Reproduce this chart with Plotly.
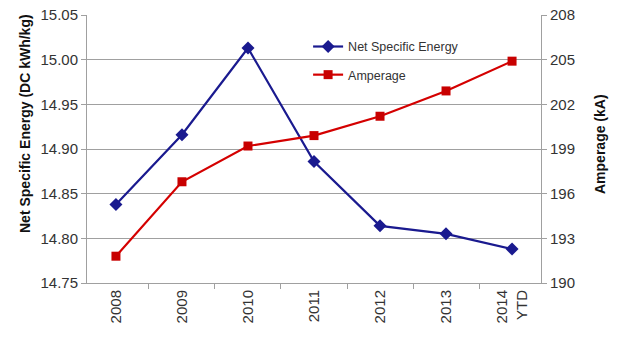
import plotly.graph_objects as go

years = ["2008", "2009", "2010", "2011", "2012", "2013", "2014<br>YTD"]
net_specific_energy = [14.838, 14.916, 15.013, 14.886, 14.814, 14.805, 14.788]
amperage = [191.8, 196.8, 199.2, 199.9, 201.2, 202.9, 204.9]

left_ticks = [14.75, 14.80, 14.85, 14.90, 14.95, 15.00, 15.05]
right_ticks = [190, 193, 196, 199, 202, 205, 208]

font_family = "Liberation Sans, Arial, sans-serif"
grid = "#a0a0a0"

fig = go.Figure()
fig.add_trace(go.Scatter(
    x=years, y=net_specific_energy, name="Net Specific Energy",
    mode="lines+markers",
    line=dict(color="#1a1a8f", width=2.2),
    marker=dict(symbol="diamond", size=10, color="#1a1a8f"),
    yaxis="y", legend="legend",
))
fig.add_trace(go.Scatter(
    x=years, y=amperage, name="Amperage",
    mode="lines+markers",
    line=dict(color="#d40000", width=2.2),
    marker=dict(symbol="square", size=9, color="#c80000"),
    yaxis="y2", legend="legend2",
))

legend_common = dict(
    xanchor="left", yanchor="top",
    bgcolor="rgba(0,0,0,0)", font=dict(size=12.5, color="#333333"),
    itemwidth=30,
)

fig.update_layout(
    width=617, height=337,
    margin=dict(l=87, r=76, t=15, b=54, autoexpand=False),
    paper_bgcolor="white", plot_bgcolor="white",
    font=dict(family=font_family, color="#333333"),
    showlegend=True,
    legend=dict(x=0.487, y=0.937, **legend_common),
    legend2=dict(x=0.487, y=0.832, **legend_common),
    xaxis=dict(
        type="category", tickangle=-90, automargin=False,
        tickfont=dict(size=15, color="#333333"),
        ticklabeloverflow="allow",
        showline=True, linecolor=grid, linewidth=1,
        ticks="outside", ticklen=5, tickcolor=grid, tickson="boundaries",
        showgrid=False, zeroline=False,
    ),
    yaxis=dict(
        range=[14.75, 15.05], tickvals=left_ticks, automargin=False,
        ticktext=[f"{v:.2f}" for v in left_ticks],
        tickfont=dict(size=15, color="#333333"),
        ticklabeloverflow="allow",
        showline=True, linecolor=grid, linewidth=1,
        ticks="outside", ticklen=5, tickcolor=grid,
        showgrid=True, gridcolor=grid, gridwidth=1, zeroline=False,
    ),
    yaxis2=dict(
        range=[190, 208], tickvals=right_ticks, automargin=False,
        tickfont=dict(size=15, color="#333333"),
        ticklabeloverflow="allow",
        overlaying="y", side="right",
        showline=True, linecolor=grid, linewidth=1,
        ticks="outside", ticklen=5, tickcolor=grid,
        showgrid=False, zeroline=False,
    ),
    annotations=[
        dict(text="<b>Net Specific Energy (DC kWh/kg)</b>", textangle=-90,
             xref="paper", yref="paper", x=-0.1366, y=0.597,
             xanchor="center", yanchor="middle", showarrow=False,
             font=dict(size=14, color="#111111")),
        dict(text="<b>Amperage (kA)</b>", textangle=-90,
             xref="paper", yref="paper", x=(600 - 87) / 454, y=(283 - 144) / 268,
             xanchor="center", yanchor="middle", showarrow=False,
             font=dict(size=14, color="#111111")),
    ],
)

# remove the page's default body margin so the figure fills the window
fig.write_html(
    "out.html",
    config={"displayModeBar": False},
    post_script="document.body.style.margin='0';document.body.style.overflow='hidden';",
)
